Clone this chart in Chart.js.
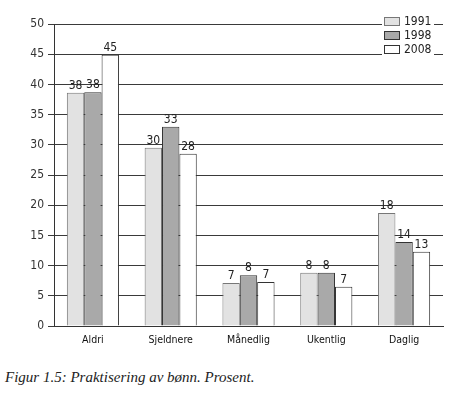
<!DOCTYPE html>
<html>
<head>
<meta charset="utf-8">
<script src="https://cdn.jsdelivr.net/npm/chart.js@4.4.0/dist/chart.umd.min.js"></script>
<style>
  body { margin: 0; background: #fff; }
  #wrap { position: relative; width: 455px; height: 395px; }
  #caption {
    position: absolute; left: 5px; top: 369px;
    font-family: "Liberation Serif", "DejaVu Serif", serif;
    font-style: italic; font-size: 15px; color: #222;
  }
</style>
</head>
<body>
<div id="wrap">
  <canvas id="chart" width="455" height="355"></canvas>
  <div id="caption">Figur 1.5: Praktisering av bønn. Prosent.</div>
</div>
<script>
// categories and series
let categories = ['Aldri', 'Sjeldnere', 'Månedlig', 'Ukentlig', 'Daglig'];
let years = ['1991', '1998', '2008'];

// bar heights
let values1991 = [38.6, 29.5, 7.1, 8.8, 18.7];
let values1998 = [38.7, 33.0, 8.4, 8.8, 13.9];
let values2008 = [44.9, 28.5, 7.3, 6.5, 12.3];

// printed numbers above bars
let labels1991 = [38, 30, 7, 8, 18];
let labels1998 = [38, 33, 8, 8, 14];
let labels2008 = [45, 28, 7, 7, 13];

let yTicks = [0, 5, 10, 15, 20, 25, 30, 35, 40, 45, 50];

let fontSans = '"DejaVu Sans Condensed", "DejaVu Sans", sans-serif';

// numbers above each bar
let barLabels = {
    id: 'barLabels',
    afterDatasetsDraw: function (chart) {
        let ctx = chart.ctx;
        ctx.save();
        ctx.font = '12px ' + fontSans;
        ctx.fillStyle = '#222';
        ctx.textAlign = 'center';
        ctx.textBaseline = 'bottom';
        chart.data.datasets.forEach(function (ds, i) {
            let meta = chart.getDatasetMeta(i);
            meta.data.forEach(function (bar, k) {
                ctx.fillText(ds.printed[k], bar.x, bar.y - 1);
            });
        });
        ctx.restore();
    }
};

// legend in the upper right corner, stacked
let cornerLegend = {
    id: 'cornerLegend',
    afterDraw: function (chart) {
        let ctx = chart.ctx;
        ctx.save();
        ctx.font = '12px ' + fontSans;
        ctx.textBaseline = 'middle';
        ctx.textAlign = 'left';
        chart.data.datasets.forEach(function (ds, i) {
            let x = 384, y = 17 + i * 14;
            ctx.fillStyle = '#fff';
            ctx.fillRect(x - 2, y - 2, 52, 14);
            ctx.fillStyle = ds.backgroundColor;
            ctx.fillRect(x, y, 16, 9);
            ctx.strokeStyle = ds.borderColor;
            ctx.lineWidth = 1;
            ctx.strokeRect(x + 0.5, y + 0.5, 15, 8);
            ctx.fillStyle = '#222';
            ctx.fillText(ds.label, x + 20, y + 5);
        });
        ctx.restore();
    }
};

let ctx = document.getElementById('chart');
let myChart = new Chart(ctx, {
    type: 'bar',
    data: {
        labels: categories,
        datasets: [{
            label: years[0],
            data: values1991,
            printed: labels1991,
            backgroundColor: '#e2e2e2',
            borderColor: '#777',
            borderWidth: 1
        }, {
            label: years[1],
            data: values1998,
            printed: labels1998,
            backgroundColor: '#a9a9a9',
            borderColor: '#333',
            borderWidth: 1
        }, {
            label: years[2],
            data: values2008,
            printed: labels2008,
            backgroundColor: '#ffffff',
            borderColor: '#333',
            borderWidth: 1
        }]
    },
    options: {
        responsive: false,
        animation: false,
        layout: { padding: { left: 0, right: 12, top: 24, bottom: 3 } },
        datasets: {
            bar: { categoryPercentage: 0.67, barPercentage: 1.0 }
        },
        plugins: {
            legend: { display: false },
            tooltip: { enabled: false }
        },
        scales: {
            x: {
                grid: { display: false },
                border: { display: true, color: '#333', width: 1 },
                ticks: { color: '#111', font: { size: 10.5, family: fontSans }, padding: 0 },
                afterFit: function (scale) { scale.height = 26; }
            },
            y: {
                min: 0,
                max: 50,
                afterBuildTicks: function (scale) {
                    scale.ticks = yTicks.map(function (v) { return { value: v }; });
                },
                grid: { color: '#3a3a3a', lineWidth: 1, tickLength: 6, drawOnChartArea: true },
                border: { display: true, color: '#333', width: 1 },
                ticks: { color: '#333', font: { size: 12, family: fontSans }, padding: 4 },
                afterFit: function (scale) { scale.width = 54; }
            }
        }
    },
    plugins: [barLabels, cornerLegend]
});
</script>
</body>
</html>
